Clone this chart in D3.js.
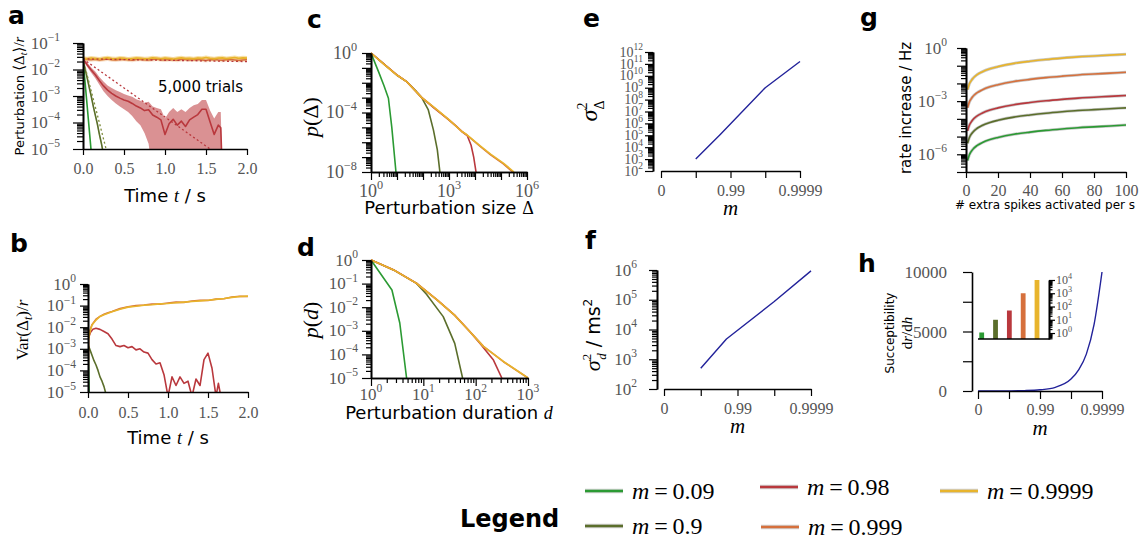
<!DOCTYPE html>
<html lang="en">
<head>
<meta charset="UTF-8">
<title>Perturbation spreading</title>
<script src="https://cdn.jsdelivr.net/npm/d3@7"></script>
<style>
  body { margin: 0; background: #fff; }
  svg { display: block; }
</style>
</head>
<body>
<script>

// ---------------- data ----------------
const mLabels = ['0.09', '0.9', '0.98', '0.999', '0.9999'];
const mColors = ['#2b9a33', '#5b6e2b', '#b9383d', '#d6703c', '#e8b42c'];

// panel a: <Delta_t>/r, values as log10
const tA = [0,0.05,0.1,0.15,0.2,0.25,0.3,0.35,0.4,0.45,0.5,0.55,0.6,0.65,0.7,0.75,0.8,0.85,0.9,0.95,1.0,
            1.05,1.1,1.15,1.2,1.25,1.3,1.35,1.4,1.45,1.5,1.55,1.6,1.65,1.7,1.75,1.8,1.85,1.9,1.95,2.0];
const aYellow = [-1.58,-1.60,-1.57,-1.59,-1.61,-1.58,-1.56,-1.59,-1.60,-1.57,-1.58,-1.61,-1.59,-1.57,-1.58,-1.60,-1.59,-1.56,-1.58,-1.60,-1.57,
                 -1.59,-1.61,-1.58,-1.56,-1.59,-1.58,-1.60,-1.57,-1.58,-1.55,-1.58,-1.60,-1.57,-1.56,-1.59,-1.57,-1.55,-1.58,-1.56,-1.57];
const aOrange = [-1.58,-1.62,-1.63,-1.61,-1.64,-1.62,-1.60,-1.63,-1.64,-1.62,-1.61,-1.63,-1.65,-1.62,-1.61,-1.63,-1.64,-1.62,-1.60,-1.63,-1.64,
                 -1.62,-1.63,-1.65,-1.62,-1.61,-1.64,-1.63,-1.62,-1.64,-1.66,-1.63,-1.62,-1.64,-1.65,-1.63,-1.62,-1.64,-1.66,-1.64,-1.63];
const aYellowBand = 0.08;
const tARed = [0,0.05,0.1,0.15,0.2,0.25,0.3,0.35,0.4,0.45,0.5,0.55,0.6,0.65,0.7,0.75,0.8,0.85,0.9,0.95,1.0,
               1.05,1.1,1.15,1.2,1.25,1.3,1.35,1.4,1.45,1.5,1.55,1.6,1.65,1.68,1.7];
const aRed = [-1.6,-1.82,-2.02,-2.2,-2.42,-2.62,-2.78,-2.9,-3.0,-3.08,-3.15,-3.2,-3.28,-3.38,-3.45,-3.55,-3.52,-3.72,-3.8,-3.9,-4.45,
              -4.05,-3.88,-4.1,-3.95,-4.15,-3.9,-3.8,-3.7,-3.5,-3.5,-3.98,-4.45,-4.1,-4.2,-6];
const aRedHi = [-1.55,-1.74,-1.92,-2.08,-2.28,-2.45,-2.6,-2.7,-2.78,-2.85,-2.92,-2.98,-3.03,-3.12,-3.18,-3.25,-3.22,-3.4,-3.45,-3.5,-3.85,
                -3.6,-3.45,-3.6,-3.5,-3.6,-3.45,-3.35,-3.3,-3.15,-3.15,-3.55,-3.85,-3.6,-3.6,-6];
const aRedLo = [-1.65,-1.9,-2.12,-2.33,-2.58,-2.82,-3.0,-3.15,-3.28,-3.4,-3.5,-3.6,-3.75,-3.95,-4.1,-4.4,-4.8,-6,-6,-6,-6,
                -6,-6,-6,-6,-6,-6,-6,-6,-6,-6,-6,-6,-6,-6,-6];
const tAOlive = [0,0.025,0.05,0.075,0.1,0.125,0.15,0.175,0.2,0.225,0.25];
const aOlive = [-1.6,-1.97,-2.3,-2.66,-3.0,-3.38,-3.72,-4.05,-4.45,-4.8,-5.2];
const aOliveBand = 0.1;
const tAGreen = [0,0.02,0.04,0.06,0.08,0.1];
const aGreen = [-1.6,-2.3,-3.0,-3.7,-4.4,-5.1];
// dotted theory lines [t, log10]
const aTheoryOrange = [[0,-1.6],[2,-1.7]];
const aTheoryRed = [[0,-1.6],[1.55,-5]];
const aTheoryOlive = [[0,-1.6],[0.29,-5.1]];

// panel b: Var(Delta_t)/r, values as log10
const tB = [0,0.005,0.025,0.05,0.1,0.15,0.2,0.25,0.3,0.4,0.5,0.6,0.7,0.8,0.9,1.0,1.1,1.2,1.3,1.4,1.5,1.6,1.7,1.8,1.9,2.0];
const bYellow = [-6,-2.6,-2.2,-1.9,-1.67,-1.5,-1.42,-1.35,-1.28,-1.17,-1.07,-1.03,-0.98,-0.96,-0.92,-0.9,-0.87,-0.84,-0.81,-0.78,-0.75,-0.71,-0.67,-0.62,-0.58,-0.56];
const bOrange = [-6,-2.55,-2.15,-1.88,-1.63,-1.5,-1.4,-1.33,-1.27,-1.14,-1.05,-1.0,-0.97,-0.93,-0.93,-0.88,-0.84,-0.85,-0.79,-0.76,-0.76,-0.7,-0.68,-0.6,-0.57,-0.58];
const tBRed = [0,0.005,0.03,0.06,0.1,0.15,0.2,0.25,0.3,0.35,0.4,0.45,0.5,0.55,0.6,0.65,0.7,0.75,0.8,0.85,0.9,0.95,1.0,
               1.05,1.1,1.15,1.2,1.25,1.3,1.35,1.4,1.45,1.5,1.55,1.6,1.63,1.66];
const bRed = [-6,-2.5,-2.25,-2.1,-2.05,-2.1,-2.2,-2.3,-2.55,-2.85,-2.9,-2.85,-2.95,-2.9,-3.05,-3.0,-3.15,-3.2,-3.5,-3.7,-3.65,-4.2,-5.2,
              -4.3,-4.7,-4.3,-4.6,-4.5,-5.2,-4.4,-4.7,-3.5,-3.2,-3.9,-5.2,-4.6,-5.2];
const tBOlive = [0,0.025,0.05,0.075,0.1,0.125,0.15,0.175,0.2,0.225];
const bOlive = [-2.8,-3.05,-3.3,-3.55,-3.75,-4.0,-4.3,-4.5,-4.75,-5.1];
const tBGreen = [0,0.005,0.01,0.015];
const bGreen = [-2.55,-3.5,-4.4,-5.2];

// panel c: p(Delta), pairs [log10 size, log10 p]
const cGreen  = [[0,0],[0.3,-1.3],[0.5,-2.2],[0.67,-3.04],[0.8,-5.0],[0.96,-8]];
const cOlive  = [[0,0],[0.5,-0.75],[0.99,-1.48],[1.37,-1.92],[1.75,-2.6],[1.95,-3.0],[2.2,-3.8],[2.4,-5.17],[2.55,-6.5],[2.65,-8]];
const cRed    = [[0,0],[0.5,-0.75],[0.99,-1.48],[1.37,-1.92],[1.95,-3.0],[2.5,-3.8],[3.0,-4.5],[3.3,-4.95],[3.49,-5.28],[3.7,-5.55],[3.85,-6.2],[3.95,-7.0],[4.04,-8]];
const cOrange = [[0,0],[0.5,-0.74],[0.99,-1.46],[1.37,-1.93],[1.95,-2.98],[2.5,-3.78],[3.0,-4.52],[3.49,-5.25],[3.68,-5.5],[4.2,-6.28],[4.6,-6.85],[5.09,-7.45],[5.45,-8]];
const cYellow = [[0,0],[0.5,-0.76],[0.99,-1.48],[1.37,-1.92],[1.95,-3.0],[2.5,-3.76],[3.0,-4.48],[3.49,-5.28],[3.68,-5.48],[4.2,-6.25],[4.6,-6.8],[5.09,-7.4],[5.5,-8]];

// panel d: p(d), pairs [log10 duration, log10 p]
const dGreen  = [[0,0],[0.4,-1.27],[0.55,-2.67],[0.68,-5]];
const dOlive  = [[0,0],[0.43,-0.42],[0.87,-0.99],[1.06,-1.45],[1.38,-2.4],[1.6,-3.53],[1.75,-5]];
const dRed    = [[0,0],[0.43,-0.42],[0.87,-0.99],[1.26,-1.69],[1.6,-2.35],[1.89,-3.04],[2.08,-3.53],[2.34,-4.24],[2.5,-5]];
const dOrange = [[0,0],[0.43,-0.41],[0.87,-0.98],[1.26,-1.68],[1.6,-2.33],[1.89,-3.03],[2.15,-3.66],[2.53,-4.31],[3.0,-5]];
const dYellow = [[0,0],[0.43,-0.42],[0.87,-0.99],[1.26,-1.69],[1.6,-2.35],[1.89,-3.04],[2.15,-3.67],[2.53,-4.3],[3.0,-5]];

// panels e, f: variance vs m (log10 values)
const mSeries = [0.9, 0.98, 0.999, 0.9999];
const sizeVarExp = [3.0, 5.05, 9.0, 11.2];
const durVarExp = [2.7, 3.68, 4.94, 5.97];
const mTicks = [0, 0.9, 0.99, 0.999, 0.9999];
const mTickLabels = ['0', '', '0.99', '', '0.9999'];

// panel g: rate increase vs extra spikes (log10 Hz)
const hVals = [1, 2, 4, 7, 10, 15, 20, 30, 40, 50, 60, 70, 80, 90, 100];
const gGreen  = [-6.35,-6.05,-5.75,-5.5,-5.35,-5.17,-5.05,-4.87,-4.75,-4.65,-4.57,-4.5,-4.45,-4.4,-4.35];
const gOlive  = [-5.38,-5.08,-4.78,-4.53,-4.38,-4.2,-4.08,-3.9,-3.78,-3.68,-3.6,-3.53,-3.48,-3.43,-3.38];
const gRed    = [-4.68,-4.38,-4.08,-3.83,-3.68,-3.5,-3.38,-3.2,-3.08,-2.98,-2.9,-2.83,-2.78,-2.73,-2.68];
const gOrange = [-3.37,-3.07,-2.77,-2.52,-2.37,-2.19,-2.07,-1.89,-1.77,-1.67,-1.59,-1.52,-1.47,-1.42,-1.37];
const gYellow = [-2.35,-2.05,-1.75,-1.5,-1.35,-1.17,-1.05,-0.87,-0.75,-0.65,-0.57,-0.5,-0.45,-0.4,-0.35];

// panel h: susceptibility
const hCurveM = [0, 0.684, 0.9, 0.968, 0.99, 0.9968, 0.999, 0.99944, 0.99968, 0.99982, 0.9999];
const hSus = [1, 3.2, 10, 31, 100, 310, 1000, 1790, 3100, 5600, 10000];
const insetSus = [1.1, 10, 50, 1000, 10000];

// ---------------- drawing ----------------
const svg = d3.select('body').append('svg').attr('width', 1144).attr('height', 541);
const defs = svg.append('defs');
const SANS = "'DejaVu Sans', sans-serif";
const SERIF = "'Liberation Serif', 'DejaVu Serif', serif";
const GREY = '#555';
const exp10 = e => Math.pow(10, e);
const mPos = m => -Math.log10(1 - m);

function clip(id, x, y, w, h) {
    defs.append('clipPath').attr('id', id).append('rect').attr('x', x).attr('y', y).attr('width', w).attr('height', h);
    return `url(#${id})`;
}

function styleAxis(g) {
    g.selectAll('path.domain').attr('stroke', '#000').attr('stroke-width', 1.6);
    g.selectAll('.tick line').attr('stroke', '#000').attr('stroke-width', 1.2);
}

function powLabel(t, e, size) {
    t.attr('font-family', SERIF).attr('font-size', size).attr('fill', GREY);
    t.append('tspan').text('10');
    t.append('tspan').attr('dy', -size * 0.45).attr('font-size', size * 0.68).text(e < 0 ? '\u2212' + (-e) : e);
}

function logAxis(g, orient, scale, labelExps, o) {
    const dom = scale.domain();
    const a = Math.min(...dom), b = Math.max(...dom);
    const inDom = v => v >= a * 0.9999 && v <= b * 1.0001;
    const lo = Math.floor(Math.log10(a)), hi = Math.ceil(Math.log10(b));
    const decades = d3.range(lo, hi + 1).map(exp10).filter(inDom);
    const minors = [];
    d3.range(lo, hi + 1).forEach(k => { for (let s = 2; s <= 9; s++) { const v = s * exp10(k); if (inDom(v)) minors.push(v); } });
    const mk = orient === 'left' ? d3.axisLeft : orient === 'right' ? d3.axisRight : d3.axisBottom;
    g.call(mk(scale).tickValues(minors).tickSize(o.minor || 4.5).tickFormat('').tickSizeOuter(0));
    g.append('g').call(mk(scale).tickValues(decades).tickSize(o.major || 8).tickFormat('').tickSizeOuter(0));
    labelExps.forEach(e => {
        const p = scale(exp10(e));
        const t = g.append('text');
        if (orient === 'left') t.attr('x', -o.gap).attr('y', p + o.size * 0.33).attr('text-anchor', 'end');
        else if (orient === 'right') t.attr('x', o.gap).attr('y', p + o.size * 0.33).attr('text-anchor', 'start');
        else t.attr('x', p).attr('y', o.gap).attr('text-anchor', 'middle');
        powLabel(t, e, o.size);
    });
    styleAxis(g);
    g.selectAll('g').each(function () { styleAxis(d3.select(this)); });
}

function linAxisBottom(g, scale, ticks, labels, size, gap, tickLen) {
    g.call(d3.axisBottom(scale).tickValues(ticks).tickSize(tickLen || 6).tickSizeOuter(0)
        .tickFormat((d, i) => labels[i]));
    g.selectAll('.tick text').attr('y', gap).attr('dy', 0)
        .attr('font-family', SERIF).attr('font-size', size).attr('fill', GREY);
    styleAxis(g);
}

function panelLetter(x, y, t) {
    svg.append('text').attr('x', x).attr('y', y).attr('font-family', SANS)
        .attr('font-weight', 'bold').attr('font-size', 25).text(t);
}

function rotLabel(x, y) {
    return svg.append('text').attr('transform', `translate(${x},${y}) rotate(-90)`).attr('text-anchor', 'middle');
}

function drawLine(g, data, x, y, color, extra) {
    const p = g.append('path').datum(data)
        .attr('d', d3.line().x(d => x(d[0])).y(d => y(d[1])))
        .attr('fill', 'none').attr('stroke', color).attr('stroke-width', 1.6).attr('stroke-linejoin', 'round');
    if (extra) extra(p);
    return p;
}

const zipT = (t, v) => t.map((d, i) => [d, exp10(v[i])]);
const pairs = arr => arr.map(d => [exp10(d[0]), exp10(d[1])]);

// ---------- panel a ----------
(() => {
    const x = d3.scaleLinear().domain([0, 2]).range([83, 247]);
    const y = d3.scaleLog().domain([1e-5, 1e-1]).range([149, 43]);
    const g = svg.append('g').attr('clip-path', clip('clipA', 83, 38, 168, 111));
    const band = (t, v, w) => t.map((d, i) => [d, exp10(v[i] - w), exp10(v[i] + w)]);
    const area = d3.area().x(d => x(d[0])).y0(d => y(d[1])).y1(d => y(d[2]));
    g.append('path').datum(band(tA, aYellow, aYellowBand)).attr('d', area).attr('fill', '#f2c95c').attr('opacity', 0.55);
    g.append('path').datum(band(tA, aOrange, aYellowBand)).attr('d', area).attr('fill', '#eba56f').attr('opacity', 0.35);
    g.append('path').datum(band(tAOlive, aOlive, aOliveBand)).attr('d', area).attr('fill', '#9fb07a').attr('opacity', 0.6);
    g.append('path').datum(tARed.map((d, i) => [d, exp10(aRedLo[i]), exp10(aRedHi[i])]))
        .attr('d', area).attr('fill', '#d68587').attr('opacity', 0.9);
    drawLine(g, zipT(tAGreen, aGreen), x, y, mColors[0]);
    drawLine(g, zipT(tAOlive, aOlive), x, y, mColors[1]);
    drawLine(g, zipT(tARed, aRed), x, y, mColors[2]);
    drawLine(g, zipT(tA, aOrange), x, y, mColors[3]);
    drawLine(g, zipT(tA, aYellow), x, y, mColors[4]);
    const dotted = p => p.attr('stroke-dasharray', '2,2.5').attr('stroke-width', 1.3);
    drawLine(g, aTheoryOrange.map(d => [d[0], exp10(d[1])]), x, y, mColors[2], dotted);
    drawLine(g, aTheoryRed.map(d => [d[0], exp10(d[1])]), x, y, mColors[2], dotted);
    drawLine(g, aTheoryOlive.map(d => [d[0], exp10(d[1])]), x, y, '#7d8c3c', dotted);

    logAxis(svg.append('g').attr('transform', 'translate(83,0)'), 'left', y, [-1, -2, -3, -4, -5], { gap: 23, size: 17, major: 10, minor: 6 });
    linAxisBottom(svg.append('g').attr('transform', 'translate(0,149)'), x, [0, 0.5, 1, 1.5, 2],
        ['0.0', '0.5', '1.0', '1.5', '2.0'], 16, 25, 6);

    svg.append('text').attr('x', 158).attr('y', 92).attr('font-family', SANS).attr('font-size', 15).text('5,000 trials');
    const xl = svg.append('text').attr('x', 165).attr('y', 202).attr('text-anchor', 'middle').attr('font-family', SANS).attr('font-size', 18);
    xl.append('tspan').text('Time ');
    xl.append('tspan').attr('font-family', SERIF).attr('font-style', 'italic').text('t');
    xl.append('tspan').text(' / s');
    const yl = rotLabel(24, 96).attr('font-size', 13);
    yl.append('tspan').attr('font-family', SANS).text('Perturbation ');
    yl.append('tspan').attr('font-family', SERIF).attr('font-size', 15).text('\u27e8\u0394');
    yl.append('tspan').attr('font-family', SERIF).attr('font-style', 'italic').attr('font-size', 10).attr('dy', 3).text('t');
    yl.append('tspan').attr('font-family', SERIF).attr('font-size', 15).attr('dy', -3).text('\u27e9/');
    yl.append('tspan').attr('font-family', SERIF).attr('font-style', 'italic').attr('font-size', 15).text('r');
    panelLetter(8, 24, 'a');
})();

// ---------- panel b ----------
(() => {
    const x = d3.scaleLinear().domain([0, 2]).range([88, 248]);
    const y = d3.scaleLog().domain([1e-5, 1]).range([392, 284]);
    const g = svg.append('g').attr('clip-path', clip('clipB', 88, 280, 164, 112));
    drawLine(g, zipT(tBGreen, bGreen), x, y, mColors[0]);
    drawLine(g, zipT(tBOlive, bOlive), x, y, mColors[1]);
    drawLine(g, zipT(tBRed, bRed), x, y, mColors[2]);
    drawLine(g, zipT(tB, bOrange), x, y, mColors[3]);
    drawLine(g, zipT(tB, bYellow), x, y, mColors[4]);

    logAxis(svg.append('g').attr('transform', 'translate(88,0)'), 'left', y, [0, -1, -2, -3, -4, -5], { gap: 12, size: 17, major: 8, minor: 5 });
    linAxisBottom(svg.append('g').attr('transform', 'translate(0,392)'), x, [0, 0.5, 1, 1.5, 2],
        ['0.0', '0.5', '1.0', '1.5', '2.0'], 16, 26, 6);

    const xl = svg.append('text').attr('x', 168).attr('y', 444).attr('text-anchor', 'middle').attr('font-family', SANS).attr('font-size', 18);
    xl.append('tspan').text('Time ');
    xl.append('tspan').attr('font-family', SERIF).attr('font-style', 'italic').text('t');
    xl.append('tspan').text(' / s');
    const yl = rotLabel(28, 330).attr('font-family', SERIF).attr('font-size', 17);
    yl.append('tspan').text('Var(\u0394');
    yl.append('tspan').attr('font-style', 'italic').attr('font-size', 12).attr('dy', 4).text('t');
    yl.append('tspan').attr('dy', -4).text(')/');
    yl.append('tspan').attr('font-style', 'italic').text('r');
    panelLetter(10, 252, 'b');
})();

// ---------- panel c ----------
(() => {
    const x = d3.scaleLog().domain([1, 1e6]).range([371, 527]);
    const y = d3.scaleLog().domain([1e-8, 1]).range([172, 53]);
    const g = svg.append('g').attr('clip-path', clip('clipC', 371, 48, 160, 124));
    [cGreen, cOlive, cRed, cOrange, cYellow].forEach((s, i) => drawLine(g, pairs(s), x, y, mColors[i]));
    logAxis(svg.append('g').attr('transform', 'translate(371,0)'), 'left', y, [0, -4, -8], { gap: 14, size: 18, major: 9, minor: 5 });
    logAxis(svg.append('g').attr('transform', 'translate(0,172)'), 'bottom', x, [0, 3, 6], { gap: 25, size: 18, major: 8, minor: 5 });
    const xl = svg.append('text').attr('x', 449).attr('y', 214).attr('text-anchor', 'middle').attr('font-family', SANS).attr('font-size', 18);
    xl.append('tspan').text('Perturbation size ');
    xl.append('tspan').attr('font-family', SERIF).text('\u0394');
    const yl = rotLabel(318, 117).attr('font-family', SERIF).attr('font-size', 22);
    yl.append('tspan').attr('font-style', 'italic').text('p');
    yl.append('tspan').text('(\u0394)');
    panelLetter(307, 28, 'c');
})();

// ---------- panel d ----------
(() => {
    const x = d3.scaleLog().domain([1, 1e3]).range([371, 528]);
    const y = d3.scaleLog().domain([1e-5, 1]).range([378, 260]);
    const g = svg.append('g').attr('clip-path', clip('clipD', 371, 255, 162, 123));
    [dGreen, dOlive, dRed, dOrange, dYellow].forEach((s, i) => drawLine(g, pairs(s), x, y, mColors[i]));
    logAxis(svg.append('g').attr('transform', 'translate(371,0)'), 'left', y, [0, -1, -2, -3, -4, -5], { gap: 13, size: 17, major: 9, minor: 5 });
    logAxis(svg.append('g').attr('transform', 'translate(0,378)'), 'bottom', x, [0, 1, 2, 3], { gap: 22, size: 17, major: 8, minor: 5 });
    const xl = svg.append('text').attr('x', 449).attr('y', 419).attr('text-anchor', 'middle').attr('font-family', SANS).attr('font-size', 18);
    xl.append('tspan').text('Perturbation duration ');
    xl.append('tspan').attr('font-family', SERIF).attr('font-style', 'italic').text('d');
    const yl = rotLabel(318, 320).attr('font-family', SERIF).attr('font-size', 22);
    yl.append('tspan').attr('font-style', 'italic').text('p');
    yl.append('tspan').text('(');
    yl.append('tspan').attr('font-style', 'italic').text('d');
    yl.append('tspan').text(')');
    panelLetter(297, 256, 'd');
})();

// ---------- panels e, f ----------
function varPanel(o) {
    const x = d3.scaleLinear().domain([0, 4]).range(o.xr);
    const y = d3.scaleLog().domain(o.yd).range(o.yr);
    drawLine(svg.append('g'), mSeries.map((m, i) => [mPos(m), exp10(o.vals[i])]), x, y, '#22229a', p => p.attr('stroke-width', 1.4));
    logAxis(svg.append('g').attr('transform', `translate(${o.yAxisX},0)`), 'left', y, o.labels, { gap: o.gap, size: o.size, major: 8, minor: 5 });
    linAxisBottom(svg.append('g').attr('transform', `translate(0,${o.yr[0]})`), x, mTicks.map(mPos), mTickLabels, 16, 25, 7);
    svg.append('text').attr('x', x(2)).attr('y', o.yr[0] + 44).attr('text-anchor', 'middle')
        .attr('font-family', SERIF).attr('font-style', 'italic').attr('font-size', 21).text('m');
}
varPanel({ xr: [661, 800], yd: [1e2, 1e12], yr: [171, 52], yAxisX: 653, vals: sizeVarExp,
    labels: d3.range(2, 13), gap: 10, size: 14 });
varPanel({ xr: [664, 811], yd: [1e2, 1e6], yr: [389, 270], yAxisX: 657, vals: durVarExp,
    labels: [2, 3, 4, 5, 6], gap: 20, size: 17 });
(() => {
    const yl = rotLabel(597, 111).attr('font-family', SERIF).attr('font-size', 24);
    yl.append('tspan').attr('font-style', 'italic').text('\u03c3');
    yl.append('tspan').attr('font-size', 14).attr('dy', -10).text('2');
    yl.append('tspan').attr('font-size', 14).attr('dx', -7).attr('dy', 17).text('\u0394');
    panelLetter(583, 27, 'e');
    const yl2 = rotLabel(600, 335).attr('font-family', SERIF).attr('font-size', 22);
    yl2.append('tspan').attr('font-style', 'italic').text('\u03c3');
    yl2.append('tspan').attr('font-size', 13).attr('dy', -9).text('2');
    yl2.append('tspan').attr('font-size', 13).attr('font-style', 'italic').attr('dx', -6).attr('dy', 15).text('d');
    yl2.append('tspan').attr('font-family', SANS).attr('font-size', 19).attr('dy', -6).text(' / ms');
    yl2.append('tspan').attr('font-family', SANS).attr('font-size', 12).attr('dy', -8).text('2');
    panelLetter(585, 249, 'f');
})();

// ---------- panel g ----------
(() => {
    const x = d3.scaleLinear().domain([0, 100]).range([966, 1126]);
    const y = d3.scaleLog().domain([1e-7, 1]).range([172, 48]);
    const g = svg.append('g');
    const smooth = d3.line().curve(d3.curveMonotoneX).x(q => x(q[0])).y(q => y(q[1]));
    [gGreen, gOlive, gRed, gOrange, gYellow].forEach((s, i) => {
        const d = hVals.map((h, j) => [h, exp10(s[j])]);
        drawLine(g, d, x, y, '#c8c8c8', p => p.attr('stroke-width', 3).attr('d', smooth));
        drawLine(g, d, x, y, mColors[i], p => p.attr('stroke-width', 1.6).attr('d', smooth));
    });
    logAxis(svg.append('g').attr('transform', 'translate(966,0)'), 'left', y, [0, -3, -6], { gap: 19, size: 17, major: 9, minor: 5 });
    linAxisBottom(svg.append('g').attr('transform', 'translate(0,172)'), x, [0, 20, 40, 60, 80, 100],
        ['0', '20', '40', '60', '80', '100'], 16, 24, 6);
    svg.append('text').attr('x', 1045).attr('y', 209).attr('text-anchor', 'middle').attr('font-family', SANS)
        .attr('font-size', 12).text('# extra spikes activated per s');
    rotLabel(911, 108).attr('font-family', SANS).attr('font-size', 15).text('rate increase / Hz');
    panelLetter(860, 26, 'g');
})();

// ---------- panel h ----------
(() => {
    const x = d3.scaleLinear().domain([0, 4]).range([978, 1102]);
    const y = d3.scaleLinear().domain([0, 10000]).range([391, 272]);
    drawLine(svg.append('g'), hCurveM.map((m, i) => [mPos(m), hSus[i]]), x, y, '#22229a',
        p => p.attr('stroke-width', 1.4).attr('d', d3.line().curve(d3.curveMonotoneX).x(q => x(q[0])).y(q => y(q[1]))));
    const ya = svg.append('g').attr('transform', 'translate(972,0)');
    ya.call(d3.axisLeft(y).tickValues([0, 2500, 5000, 7500, 10000]).tickSize(9).tickSizeOuter(0)
        .tickFormat(d => (d % 5000 === 0 ? d : '')));
    ya.selectAll('.tick text').attr('x', -25).attr('dy', '0.33em')
        .attr('font-family', SERIF).attr('font-size', 17).attr('fill', GREY);
    styleAxis(ya);
    linAxisBottom(svg.append('g').attr('transform', 'translate(0,391)'), x, mTicks.map(mPos), mTickLabels, 16, 24, 8);
    svg.append('text').attr('x', x(2)).attr('y', 435).attr('text-anchor', 'middle')
        .attr('font-family', SERIF).attr('font-style', 'italic').attr('font-size', 21).text('m');

    // inset
    const ix = d3.scalePoint().domain(mLabels).range([981.7, 1037]);
    const iy = d3.scaleLog().domain([exp10(-0.45), 1e4]).range([339, 280]);
    svg.append('g').selectAll('rect').data(insetSus).join('rect')
        .attr('x', (d, i) => ix(mLabels[i]) - 2.4).attr('width', 4.8)
        .attr('y', d => iy(d)).attr('height', d => 339 - iy(d))
        .attr('fill', (d, i) => mColors[i]);
    svg.append('line').attr('x1', 978).attr('x2', 1049).attr('y1', 339).attr('y2', 339).attr('stroke', '#000').attr('stroke-width', 1.5);
    logAxis(svg.append('g').attr('transform', 'translate(1049,0)'), 'right', iy, [0, 1, 2, 3, 4], { gap: 7, size: 12, major: 6, minor: 3.5 });

    rotLabel(894, 333).attr('font-family', SANS).attr('font-size', 12).text('Succeptibility');
    const yl = rotLabel(912, 333).attr('font-family', SERIF).attr('font-size', 15);
    yl.append('tspan').text('d');
    yl.append('tspan').attr('font-style', 'italic').text('r');
    yl.append('tspan').text('/d');
    yl.append('tspan').attr('font-style', 'italic').text('h');
    panelLetter(858, 272, 'h');
})();

// ---------- legend ----------
const legendPos = [[585, 491], [585, 526], [760, 487], [761, 527], [940, 491]];
svg.append('text').attr('x', 460).attr('y', 527).attr('font-family', SANS).attr('font-weight', 'bold')
    .attr('font-size', 24).text('Legend');
const leg = svg.append('g').selectAll('g').data(mLabels).join('g')
    .attr('transform', (d, i) => `translate(${legendPos[i][0]},${legendPos[i][1]})`);
leg.append('line').attr('x1', 0).attr('x2', 38).attr('stroke', '#d0d0d0').attr('stroke-width', 4.5);
leg.append('line').attr('x1', 0).attr('x2', 38).attr('stroke', (d, i) => mColors[i]).attr('stroke-width', 2.4);
const lt = leg.append('text').attr('x', 47).attr('y', 8).attr('font-family', SERIF).attr('font-size', 24);
lt.append('tspan').attr('font-style', 'italic').text('m');
lt.append('tspan').text(d => '\u2009=\u2009' + d);

</script>
</body>
</html>
